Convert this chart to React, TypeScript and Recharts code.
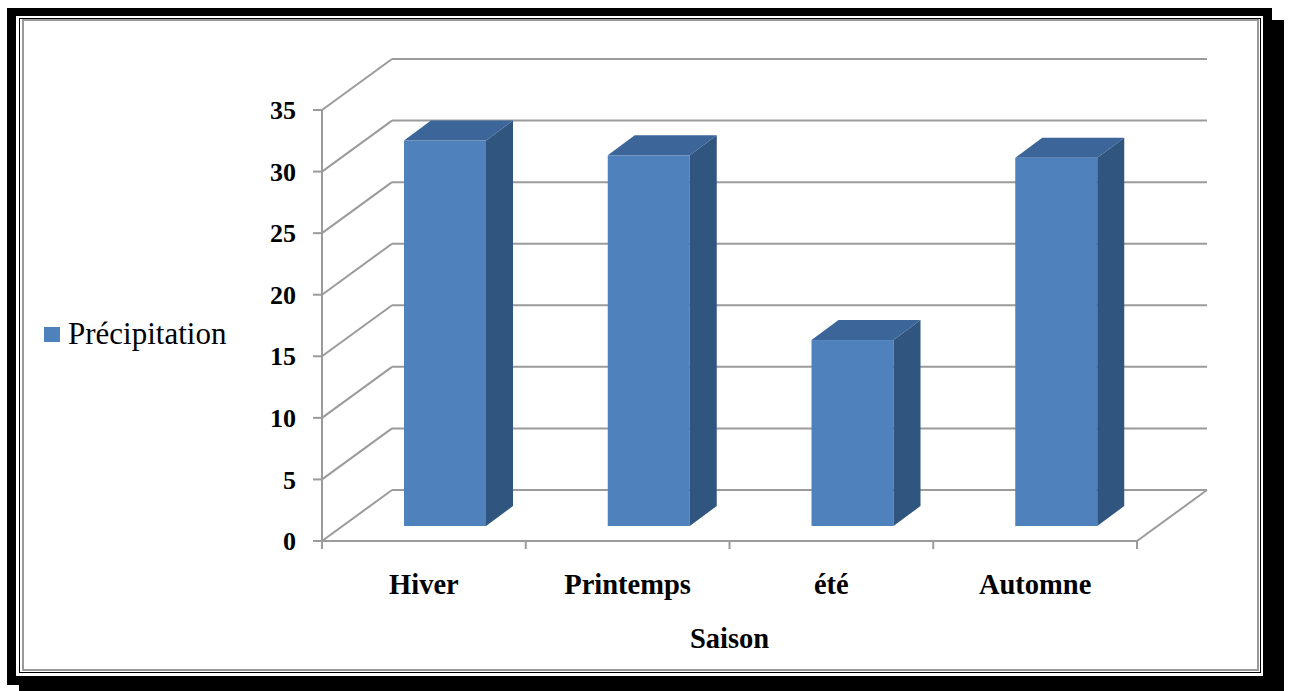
import React from 'react';
import { BarChart, Bar, XAxis, YAxis, CartesianGrid, Legend } from 'recharts';

const CATEGORIES = ['Hiver', 'Printemps', 'été', 'Automne'];
const PRECIPITATION = [31.3, 30.1, 15.1, 29.9];
const Y_TICKS = [0, 5, 10, 15, 20, 25, 30, 35];

const SERIF = "'Liberation Serif', 'Times New Roman', serif";
const GRID = '#9b9b9b';
const BLUE = '#4f81bd';
const BLUE_TOP = '#3c6699';
const BLUE_SIDE = '#30557f';

const CHART_W = 1290;
const CHART_H = 691;
const MARGIN = { top: 110, right: 153, bottom: 40, left: 262 };
const Y_AXIS_W = 60;
const PLOT_W = CHART_W - MARGIN.left - Y_AXIS_W - MARGIN.right;
const BAND = PLOT_W / CATEGORIES.length;

// depth of the 3D floor, and where the bars sit inside it
const DEPTH_X = 70;
const DEPTH_Y = -51;
const BAR_OFF_X = 21;
const BAR_OFF_Y = -15;
const BAR_DEPTH_X = 27;
const BAR_DEPTH_Y = -20;

const data = CATEGORIES.map((saison, i) => ({ saison, precipitation: PRECIPITATION[i] }));

// back-wall grid line with its diagonal to the front axis
const WallLine = (props: any) => {
  const { x1, y1, x2 } = props;
  return (
    <g key={`wall-${y1}`}>
      <line x1={x1} y1={y1} x2={x1 + DEPTH_X} y2={y1 + DEPTH_Y} stroke={GRID} strokeWidth={2} />
      <line x1={x1 + DEPTH_X} y1={y1 + DEPTH_Y} x2={x2 + DEPTH_X} y2={y1 + DEPTH_Y} stroke={GRID} strokeWidth={2} />
    </g>
  );
};

const Bar3D = (props: any) => {
  const { x, y, width, height } = props;
  if (height <= 0) return null;
  const fx = x + BAR_OFF_X;
  const fy = y + BAR_OFF_Y;
  const top = `${fx},${fy} ${fx + BAR_DEPTH_X},${fy + BAR_DEPTH_Y} ${fx + width + BAR_DEPTH_X},${fy + BAR_DEPTH_Y} ${fx + width},${fy}`;
  const side = `${fx + width},${fy} ${fx + width + BAR_DEPTH_X},${fy + BAR_DEPTH_Y} ${fx + width + BAR_DEPTH_X},${fy + BAR_DEPTH_Y + height} ${fx + width},${fy + height}`;
  return (
    <g>
      <rect x={fx} y={fy} width={width} height={height} fill={BLUE} />
      <polygon points={side} fill={BLUE_SIDE} />
      <polygon points={top} fill={BLUE_TOP} />
    </g>
  );
};

const YTick = (props: any) => {
  const { x, y, payload } = props;
  return (
    <g>
      <line x1={x - 9} y1={y} x2={x} y2={y} stroke={GRID} strokeWidth={2} />
      <text x={x - 26} y={y} dy="0.35em" textAnchor="end" fontFamily={SERIF} fontWeight="bold" fontSize={26} fill="#000">
        {payload.value}
      </text>
    </g>
  );
};

const XTick = (props: any) => {
  const { x, y, payload, index } = props;
  const last = index === CATEGORIES.length - 1;
  const right = x + BAND / 2;
  return (
    <g>
      <line x1={x - BAND / 2} y1={y} x2={x - BAND / 2} y2={y + 8} stroke={GRID} strokeWidth={2} />
      {last && (
        <>
          <line x1={right} y1={y} x2={right} y2={y + 8} stroke={GRID} strokeWidth={2} />
          <line x1={right} y1={y} x2={right + DEPTH_X} y2={y + DEPTH_Y} stroke={GRID} strokeWidth={2} />
        </>
      )}
      <text x={x} y={y + 53} textAnchor="middle" fontFamily={SERIF} fontWeight="bold" fontSize={28.5} fill="#000">
        {payload.value}
      </text>
    </g>
  );
};

const LegendContent = () => (
  <div style={{ display: 'flex', alignItems: 'center', fontFamily: SERIF, fontSize: 31, lineHeight: '34px', color: '#000', whiteSpace: 'nowrap' }}>
    <span style={{ display: 'inline-block', width: 16, height: 15, background: BLUE, marginRight: 8 }} />
    Précipitation
  </div>
);

const Frame = () => (
  <>
    <div style={{ position: 'absolute', left: 7, top: 8, width: 1265, height: 677, background: '#000' }} />
    <div style={{ position: 'absolute', left: 19, top: 20, width: 1265, height: 671, background: '#000' }} />
    <div style={{ position: 'absolute', left: 16, top: 16, width: 1247, height: 660, background: '#fff' }} />
    <div style={{ position: 'absolute', left: 19, top: 18, width: 1240, height: 653, border: '1px solid #000', boxSizing: 'content-box' }} />
    <div style={{ position: 'absolute', left: 22, top: 19, width: 1233, height: 648, border: '2px solid #999', background: '#fff' }} />
  </>
);

export default function App() {
  return (
    <div style={{ position: 'absolute', left: 0, top: 0, width: CHART_W, height: CHART_H, background: '#fff' }}>
      <Frame />
      <div style={{ position: 'absolute', left: 0, top: 0 }}>
        <BarChart width={CHART_W} height={CHART_H} data={data} margin={MARGIN} barSize={82}>
          <CartesianGrid vertical={false} horizontal={(p: any) => <WallLine {...p} />} />
          <XAxis
            dataKey="saison"
            interval={0}
            height={110}
            tickLine={false}
            tickSize={0}
            tickMargin={0}
            axisLine={{ stroke: GRID, strokeWidth: 2 }}
            tick={<XTick />}
            label={({ viewBox }: any) => (
              <text x={viewBox.x + viewBox.width / 2} y={viewBox.y + 107} textAnchor="middle" fontFamily={SERIF} fontWeight="bold" fontSize={28.5} fill="#000">
                Saison
              </text>
            )}
          />
          <YAxis
            type="number"
            domain={[0, 35]}
            ticks={Y_TICKS}
            interval={0}
            width={Y_AXIS_W}
            tickLine={false}
            tickSize={0}
            tickMargin={0}
            axisLine={{ stroke: GRID, strokeWidth: 2 }}
            tick={<YTick />}
          />
          <Legend
            layout="horizontal"
            verticalAlign="middle"
            align="center"
            content={<LegendContent />}
            wrapperStyle={{ position: 'absolute', left: 44, top: 317, width: 220 }}
          />
          <Bar dataKey="precipitation" name="Précipitation" fill={BLUE} shape={<Bar3D />} isAnimationActive={false} />
        </BarChart>
      </div>
    </div>
  );
}
